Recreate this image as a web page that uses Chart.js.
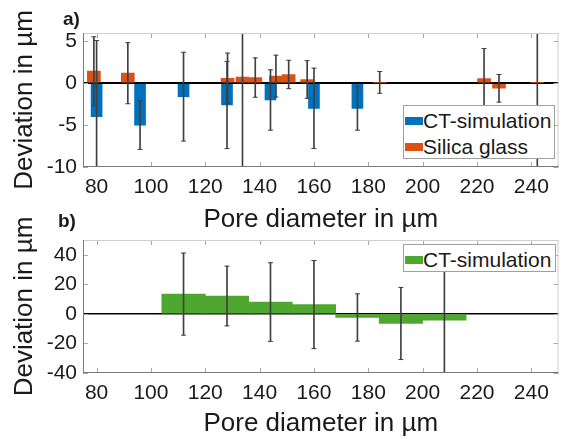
<!DOCTYPE html>
<html>
<head>
<meta charset="utf-8">
<title>Deviation vs pore diameter</title>
<script src="https://cdn.jsdelivr.net/npm/chart.js@4.4.0/dist/chart.umd.min.js"></script>
<style>
    html, body { margin: 0; padding: 0; background: #fff; }
    body { width: 562px; height: 439px; position: relative; overflow: hidden; font-family: 'Liberation Sans', Arial, sans-serif; }
    .panel { position: absolute; left: 0; width: 562px; }
    #panelA { top: 0; height: 235px; }
    #panelB { top: 205px; height: 234px; }
    .tag { position: absolute; font-weight: bold; font-size: 19px; line-height: 19px; color: #1a1a1a; z-index: 2; }
    .legend { position: absolute; background: #fff; border: 1px solid #a0a0a0; box-sizing: border-box; padding-top: 2px; z-index: 2; }
    .legend div { height: 26px; line-height: 26px; font-size: 21px; color: #1a1a1a; white-space: nowrap; }
    .legend .sw { display: inline-block; width: 18px; height: 8px; margin-left: 1px; vertical-align: middle; position: relative; top: -1px; }
</style>
</head>
<body>
<div class="panel" id="panelA"><canvas id="chartA"></canvas></div>
<div class="panel" id="panelB"><canvas id="chartB"></canvas></div>

<div class="tag" style="left:63px; top:9px;">a)</div>
<div class="tag" style="left:58px; top:211px;">b)</div>

<div class="legend" style="left:403px; top:105px; width:152px; height:54px;">
    <div><span class="sw" style="background:#0072BD"></span>CT-simulation</div>
    <div><span class="sw" style="background:#D95319"></span>Silica glass</div>
</div>
<div class="legend" style="left:403px; top:244px; width:153px; height:28px;">
    <div><span class="sw" style="background:#4EA72E"></span>CT-simulation</div>
</div>

<script>
// Axis ticks
const xTicks = [80, 100, 120, 140, 160, 180, 200, 220, 240];
const yTicksA = [-10, -5, 0, 5];
const yTicksB = [-40, -20, 0, 20, 40];

// a) CT-simulation
const ctDiameters = [80, 96, 112, 128, 144, 160, 176];
const ctDeviation = [-4.0, -5.0, -1.6, -2.6, -2.0, -3.0, -3.0];
const ctError = [9.1, 2.9, 5.3, 5.2, 3.6, 4.8, 2.6];

// a) Silica glass
const glassDiameters = [79, 91.5, 128.2, 133.7, 138.4, 146, 150.7, 157.5, 184.2, 222.6, 228.1, 242.2];
const glassDeviation = [1.45, 1.2, 0.6, 0.75, 0.68, 0.85, 1.05, 0.45, 0.1, 0.55, -0.6, 0.1];
const glassError = [4.1, 3.65, 3.0, 20, 2.35, 2.5, 1.7, 2.25, 1.3, 3.6, 1.65, 20];

// b) CT-simulation in 16 µm classes
const classCenters = [112, 128, 144, 160, 176, 192, 208];
const classDeviation = [13.4, 12.1, 8.0, 6.3, -2.4, -6.5, -4.2];
const classError = [27.8, 20.2, 26.6, 29.8, 16, 24.4, 36];

const TEXT = '#1a1a1a';
const ERR = '#404040';

Chart.defaults.font.family = "'Liberation Sans', Arial, sans-serif";
Chart.defaults.color = TEXT;

function barPoints(xs, ys) {
    return xs.map((x, i) => ({ x: x, y: ys[i] }));
}

// vertical part of an error bar, as a 1px floating bar
function errorStems(xs, ys, errs) {
    return xs.map((x, i) => ({ x: x, y: [ys[i] - errs[i], ys[i] + errs[i]] }));
}

// little caps at both ends
function errorCaps(xs, ys, errs) {
    const pts = [];
    xs.forEach((x, i) => {
        pts.push({ x: x, y: ys[i] - errs[i] });
        pts.push({ x: x, y: ys[i] + errs[i] });
    });
    return pts;
}

function errorDatasets(xs, ys, errs) {
    return [
        {
            type: 'bar',
            data: errorStems(xs, ys, errs),
            backgroundColor: ERR,
            barThickness: 1,
            grouped: false,
            order: 0
        },
        {
            type: 'scatter',
            data: errorCaps(xs, ys, errs),
            pointStyle: 'line',
            pointRadius: 2.5,
            pointHoverRadius: 2.5,
            pointBorderColor: ERR,
            pointBorderWidth: 1,
            order: 0
        }
    ];
}

// box around the plot with MATLAB-like inward ticks
const axesFrame = {
    id: 'axesFrame',
    afterDraw(chart) {
        const ctx = chart.ctx;
        const { left, right, top, bottom } = chart.chartArea;
        const line = (x1, y1, x2, y2) => {
            ctx.beginPath();
            ctx.moveTo(x1, y1);
            ctx.lineTo(x2, y2);
            ctx.stroke();
        };
        ctx.save();
        ctx.lineWidth = 1;

        ctx.strokeStyle = '#a8a8a8';
        chart.scales.x.ticks.forEach(t => {
            const px = Math.round(chart.scales.x.getPixelForValue(t.value)) + 0.5;
            line(px, bottom, px, bottom - 5);
            line(px, top, px, top + 5);
        });
        chart.scales.y.ticks.forEach(t => {
            const py = Math.round(chart.scales.y.getPixelForValue(t.value)) + 0.5;
            line(left, py, left + 5, py);
            line(right, py, right - 5, py);
        });

        ctx.strokeStyle = '#cfcfcf';
        line(left, top + 0.5, right, top + 0.5);
        line(right - 0.5, top, right - 0.5, bottom);
        ctx.strokeStyle = '#7a7a7a';
        line(left + 0.5, top, left + 0.5, bottom);
        line(left, bottom - 0.5, right, bottom - 0.5);
        ctx.restore();
    }
};

function createPanelChart(canvasId, datasets, panel) {
    const ctx = document.getElementById(canvasId);
    if (!ctx) return null;

    return new Chart(ctx, {
        type: 'bar',
        data: { datasets: datasets },
        options: {
            responsive: true,
            maintainAspectRatio: false,
            animation: false,
            layout: { padding: { top: panel.padTop, right: 3, left: 0, bottom: 0 } },
            plugins: {
                legend: { display: false },
                tooltip: { enabled: false }
            },
            scales: {
                x: {
                    type: 'linear',
                    min: 75,
                    max: 250,
                    offset: false,
                    afterBuildTicks: s => { s.ticks = xTicks.map(v => ({ value: v })); },
                    afterFit: s => { s.height = panel.xHeight; },
                    grid: { display: false, drawTicks: false },
                    border: { display: false },
                    ticks: { font: { size: 21 }, padding: 8, maxRotation: 0, autoSkip: false },
                    title: {
                        display: true,
                        text: 'Pore diameter in µm',
                        font: { size: 26 },
                        padding: { top: 0, bottom: 0 }
                    }
                },
                y: {
                    type: 'linear',
                    min: panel.yMin,
                    max: panel.yMax,
                    z: 1,
                    afterBuildTicks: s => { s.ticks = panel.yTicks.map(v => ({ value: v })); },
                    afterFit: s => { s.width = 83; },
                    grid: {
                        drawTicks: false,
                        color: c => (c.tick && c.tick.value === 0) ? '#000' : 'rgba(0,0,0,0)',
                        lineWidth: panel.zeroWidth
                    },
                    border: { display: false },
                    ticks: { font: { size: 21 }, padding: 6 },
                    title: {
                        display: true,
                        text: 'Deviation in µm',
                        font: { size: 26 },
                        padding: { top: 9, bottom: 0 }
                    }
                }
            }
        },
        plugins: [axesFrame]
    });
}

const datasetsA = [
    ...errorDatasets(glassDiameters, glassDeviation, glassError),
    ...errorDatasets(ctDiameters, ctDeviation, ctError),
    {
        type: 'bar',
        label: 'CT-simulation',
        data: barPoints(ctDiameters, ctDeviation),
        backgroundColor: '#0072BD',
        barThickness: 11,
        grouped: false,
        order: 2
    },
    {
        type: 'bar',
        label: 'Silica glass',
        data: barPoints(glassDiameters, glassDeviation),
        backgroundColor: '#D95319',
        barThickness: 13,
        grouped: false,
        order: 3
    }
];

const datasetsB = [
    ...errorDatasets(classCenters, classDeviation, classError),
    {
        type: 'bar',
        label: 'CT-simulation',
        data: barPoints(classCenters, classDeviation),
        backgroundColor: '#4EA72E',
        categoryPercentage: 1,
        barPercentage: 1,
        grouped: false,
        order: 2
    }
];

createPanelChart('chartA', datasetsA, {
    padTop: 33, xHeight: 68,
    yMin: -10, yMax: 6, yTicks: yTicksA, zeroWidth: 2
});
createPanelChart('chartB', datasetsB, {
    padTop: 35, xHeight: 66,
    yMin: -40, yMax: 50, yTicks: yTicksB, zeroWidth: 1.5
});
</script>
</body>
</html>
